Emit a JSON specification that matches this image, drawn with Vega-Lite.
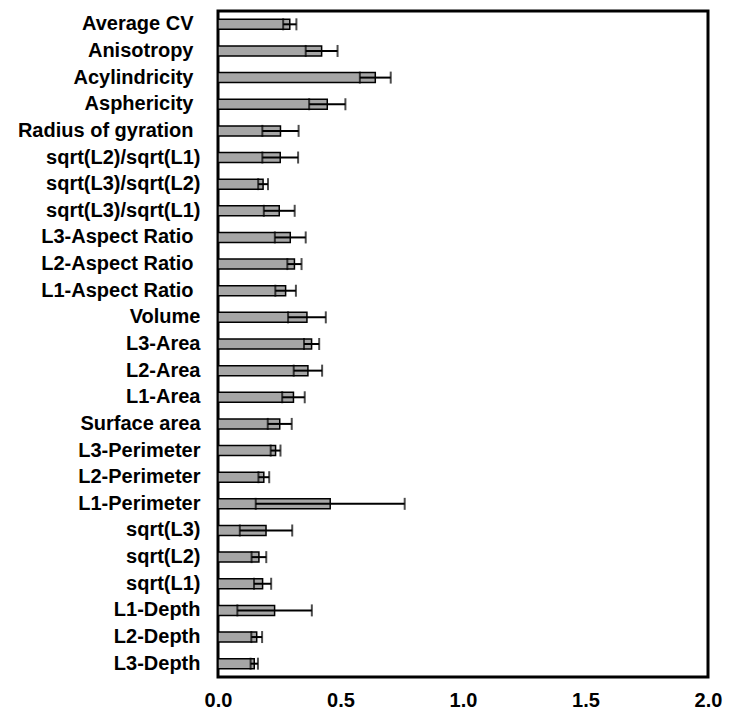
{
  "$schema": "https://vega.github.io/schema/vega-lite/v6.json",
  "width": 490,
  "height": 666,
  "autosize": {"type": "none"},
  "padding": {"left": 218, "top": 11, "right": 21, "bottom": 36},
  "background": "white",
  "config": {
    "view": {"stroke": "black", "strokeWidth": 3},
    "font": "Liberation Sans"
  },
  "data": {
    "values": [
      {"label": "Average CV", "value": 0.293, "lo": 0.266, "hi": 0.320},
      {"label": "Anisotropy", "value": 0.423, "lo": 0.358, "hi": 0.488},
      {"label": "Acylindricity", "value": 0.642, "lo": 0.579, "hi": 0.705},
      {"label": "Asphericity", "value": 0.446, "lo": 0.372, "hi": 0.520},
      {"label": "Radius of gyration", "value": 0.255, "lo": 0.181, "hi": 0.329},
      {"label": "sqrt(L2)/sqrt(L1)", "value": 0.254, "lo": 0.181, "hi": 0.327},
      {"label": "sqrt(L3)/sqrt(L2)", "value": 0.184, "lo": 0.164, "hi": 0.204},
      {"label": "sqrt(L3)/sqrt(L1)", "value": 0.250, "lo": 0.187, "hi": 0.313},
      {"label": "L3-Aspect Ratio", "value": 0.295, "lo": 0.232, "hi": 0.358},
      {"label": "L2-Aspect Ratio", "value": 0.312, "lo": 0.283, "hi": 0.341},
      {"label": "L1-Aspect Ratio", "value": 0.276, "lo": 0.234, "hi": 0.318},
      {"label": "Volume", "value": 0.363, "lo": 0.286, "hi": 0.440},
      {"label": "L3-Area", "value": 0.382, "lo": 0.351, "hi": 0.413},
      {"label": "L2-Area", "value": 0.367, "lo": 0.309, "hi": 0.425},
      {"label": "L1-Area", "value": 0.308, "lo": 0.262, "hi": 0.354},
      {"label": "Surface area", "value": 0.252, "lo": 0.203, "hi": 0.301},
      {"label": "L3-Perimeter", "value": 0.235, "lo": 0.215, "hi": 0.255},
      {"label": "L2-Perimeter", "value": 0.187, "lo": 0.165, "hi": 0.209},
      {"label": "L1-Perimeter", "value": 0.458, "lo": 0.154, "hi": 0.762},
      {"label": "sqrt(L3)", "value": 0.196, "lo": 0.089, "hi": 0.303},
      {"label": "sqrt(L2)", "value": 0.167, "lo": 0.137, "hi": 0.197},
      {"label": "sqrt(L1)", "value": 0.182, "lo": 0.147, "hi": 0.217},
      {"label": "L1-Depth", "value": 0.231, "lo": 0.079, "hi": 0.383},
      {"label": "L2-Depth", "value": 0.158, "lo": 0.136, "hi": 0.180},
      {"label": "L3-Depth", "value": 0.148, "lo": 0.133, "hi": 0.163}
    ]
  },
  "encoding": {
    "y": {
      "field": "label",
      "type": "nominal",
      "sort": null,
      "title": null,
      "axis": {
        "domain": false,
        "ticks": false,
        "labelPadding": {
          "condition": {
            "test": "indexof(['Average CV','Anisotropy','Acylindricity','Asphericity','Radius of gyration','L3-Aspect Ratio','L2-Aspect Ratio','L1-Aspect Ratio'], datum.value) >= 0",
            "value": 25
          },
          "value": 18
        },
        "labelFontSize": 20,
        "labelFontWeight": "bold",
        "labelColor": "black",
        "labelFont": "Liberation Sans",
        "labelLimit": 300
      }
    }
  },
  "layer": [
    {
      "mark": {"type": "bar", "size": 10, "fill": "#a6a6a6", "stroke": "black", "strokeWidth": 1.5},
      "encoding": {
        "x": {
          "field": "value",
          "type": "quantitative",
          "scale": {"domain": [0, 2], "nice": false},
          "title": null,
          "axis": {
            "values": [0, 0.5, 1, 1.5, 2],
            "format": ".1f",
            "grid": false,
            "domain": false,
            "ticks": false,
            "labelFlush": false,
            "labelPadding": 13,
            "labelFontSize": 20,
            "labelFontWeight": "bold",
            "labelColor": "black",
            "labelFont": "Liberation Sans"
          }
        }
      }
    },
    {
      "mark": {"type": "rule", "color": "black", "strokeWidth": 2},
      "encoding": {
        "x": {"field": "lo", "type": "quantitative"},
        "x2": {"field": "hi"}
      }
    },
    {
      "mark": {"type": "tick", "color": "black", "size": 12, "thickness": 2},
      "encoding": {
        "x": {"field": "lo", "type": "quantitative"}
      }
    },
    {
      "mark": {"type": "tick", "color": "black", "size": 12, "thickness": 2},
      "encoding": {
        "x": {"field": "hi", "type": "quantitative"}
      }
    }
  ]
}
